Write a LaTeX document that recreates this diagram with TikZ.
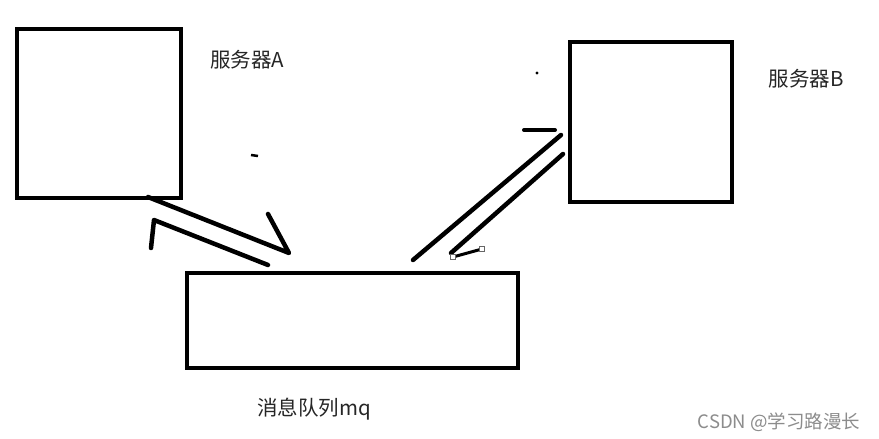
\documentclass[tikz,border=0pt]{standalone}
\usepackage{fontspec}
\newfontfamily\cjk{Noto Sans CJK SC}
\begin{document}
\begin{tikzpicture}[x=1pt,y=-1pt,
  box/.style={draw=black,line width=4pt,fill=none},
  stroke/.style={draw=black,line width=4.5pt,line cap=round,line join=round},
  lbl/.style={font=\cjk\fontsize{20.5}{20.5}\selectfont,text=black!85,inner sep=0pt},
  handle/.style={draw=black!60,fill=white,line width=0.8pt,minimum size=5pt,inner sep=0pt}]
\useasboundingbox[fill=white] (0,0) rectangle (879,439);
% boxes
\node[box,minimum width=164pt,minimum height=169pt,inner sep=0pt] (srvA) at (99,113.5) {};
\node[box,minimum width=162pt,minimum height=160pt,inner sep=0pt] (srvB) at (651,122) {};
\node[box,minimum width=331pt,minimum height=95pt,inner sep=0pt] (mq) at (352.5,320.5) {};
% labels
\node[lbl] (labA) at (247,60) {服务器A};
\node[lbl] (labB) at (806,79) {服务器B};
\node[lbl] (labMQ) at (314,409) {消息队列mq};
\node[font=\cjk\fontsize{18.5}{18.5}\selectfont,text=black!45,inner sep=0pt] (wm) at (779,422) {CSDN @学习路漫长};
% coordinates for hand-drawn strokes
\coordinate (a1) at (148,197);
\coordinate (a2) at (289,253);
\coordinate (a3) at (268,214);
\coordinate (b1) at (268,265);
\coordinate (b2) at (154,220);
\coordinate (b3) at (151,248);
\coordinate (c1) at (561,135);
\coordinate (c2) at (413,260);
\coordinate (d1) at (563,154);
\coordinate (d2) at (451,253);
\coordinate (h1) at (453,257);
\coordinate (h2) at (482,249);
\coordinate (e1) at (524,130);
\coordinate (e2) at (555,130);
\coordinate (m1) at (251,155);
\coordinate (m2) at (258,156);
\coordinate (p1) at (537,73);
% strokes
\draw[stroke] (a1) -- (a2) -- (a3);
\draw[stroke] (b1) -- (b2) -- (b3);
\draw[stroke] (c1) -- (c2);
\draw[stroke] (d1) -- (d2);
\draw[draw=black,line width=3pt] (h1) -- (h2);
\node[handle] at (h1) {};
\node[handle] at (h2) {};
\draw[stroke,line width=4pt] (e1) -- (e2);
\draw[draw=black,line width=2.5pt] (m1) -- (m2);
\fill[black] (p1) circle (1.6pt);
\end{tikzpicture}
\end{document}
